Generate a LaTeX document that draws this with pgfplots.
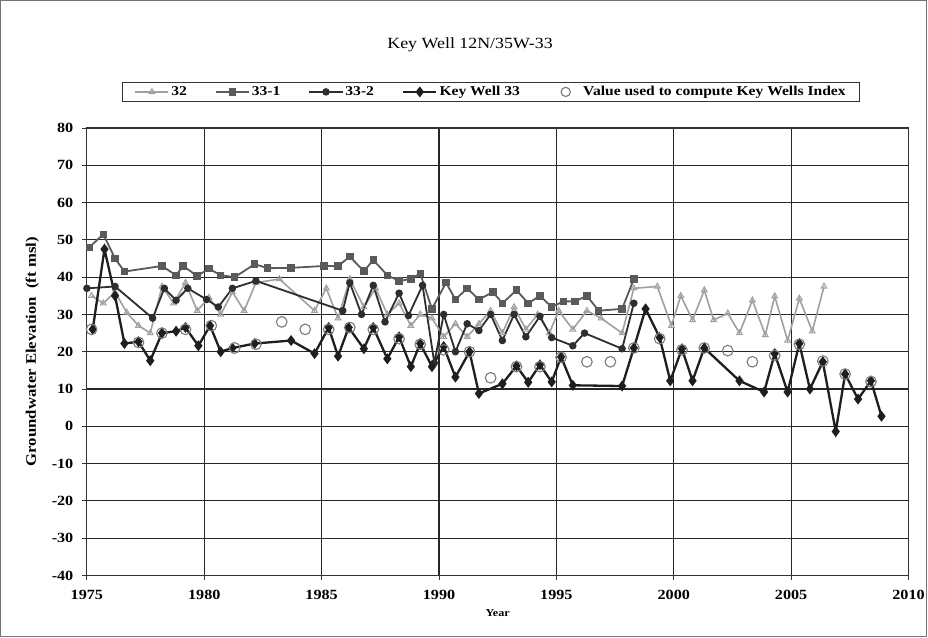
\documentclass[border=0pt]{standalone}
\usepackage{fontspec}
\setmainfont[FakeStretch=1.15]{Liberation Serif}
\usepackage{pgfplots}
\pgfplotsset{compat=1.18}
\definecolor{cA}{HTML}{A0A0A0}
\definecolor{cB}{HTML}{5A5A5A}
\definecolor{cC}{HTML}{2E2E2E}
\definecolor{cD}{HTML}{1E1E1E}
\definecolor{cE}{HTML}{7A7A7A}
\begin{document}
\begin{tikzpicture}
\begin{axis}[
 name=ax,
 scale only axis, width=819pt, height=446pt,
 xmin=1975, xmax=2010, ymin=-40, ymax=80,
 xtick={1975,1980,...,2010}, ytick={-40,-30,...,80},
 grid=major, major grid style={black!85, line width=1.2pt},
 axis line style={black!80, line width=1.1pt},
 tick style={black!80, line width=0.9pt},
 tick align=outside, major tick length=5pt,
 xtick pos=bottom, ytick pos=left,
 /pgf/number format/assume math mode=true,
 /pgf/number format/1000 sep={},
 ticklabel style={font=\fontsize{14}{16}\selectfont\bfseries},
 xticklabel style={yshift=-6pt},
 yticklabel style={xshift=-5pt},
 xlabel={Year}, xlabel style={font=\fontsize{10.5}{12}\selectfont\bfseries, yshift=-3pt},
 ylabel={Groundwater Elevation\ \ (ft msl)}, ylabel style={font=\fontsize{14.5}{16}\selectfont\bfseries, yshift=6pt},
 legend columns=5,
 legend style={at={(0.492,1)}, anchor=south, yshift=26pt, draw=black!80, line width=1.1pt,
   font=\fontsize{13.5}{15}\selectfont\bfseries, inner xsep=12pt, inner ysep=2pt,
   /tikz/every even column/.append style={column sep=26pt}},
 legend image code/.code={\draw[mark repeat=2,mark phase=2] plot coordinates {(0cm,0cm)(0.58cm,0cm)(1.16cm,0cm)};},
 legend cell align=left,
]
\addplot[cA, line width=1.6pt, mark=triangle, mark size=3.3pt, mark options={solid, line width=1pt}] coordinates {
(1975.2,35)(1975.7,33)(1976.2,36)(1976.7,30.5)(1977.2,27)(1977.7,25)(1978.2,37.5)(1978.7,33)
(1979.2,38.5)(1979.7,31)(1980.2,34.5)(1980.7,30)(1981.2,36)(1981.7,31)(1982.2,38.5)(1983.2,39.5)
(1984.7,31)(1985.2,37)(1985.7,29)(1986.2,39.5)(1986.8,32)(1987.3,37)(1987.8,30)(1988.3,33)
(1988.8,27)(1989.2,30)(1989.7,29)(1990.2,24)(1990.7,27.5)(1991.2,24)(1991.7,27.5)(1992.2,31)
(1992.7,25)(1993.2,32)(1993.7,26)(1994.2,30)(1994.7,25)(1995.1,31)(1995.7,26)(1996.3,31)
(1996.9,29)(1997.8,25)(1998.3,37)(1999.3,37.5)(1999.9,27)(2000.3,35)(2000.8,28.5)(2001.3,36.5)
(2001.7,28.5)(2002.3,30.3)(2002.8,25)(2003.35,33.8)(2003.9,24.5)(2004.3,34.9)(2004.85,23)
(2005.35,34.3)(2005.9,25.5)(2006.4,37.5)};
\addlegendentry{32}
\addplot[cB, line width=1.8pt, mark=square*, mark size=2.8pt, mark options={solid}] coordinates {
(1975.1,48)(1975.7,51.5)(1976.2,45)(1976.6,41.5)(1978.2,43)(1978.8,40.5)(1979.1,43)(1979.7,40.3)
(1980.2,42.3)(1980.7,40.5)(1981.3,40)(1982.15,43.5)(1982.7,42.4)(1983.7,42.5)(1985.1,43)(1985.7,43)
(1986.2,45.5)(1986.8,41.6)(1987.2,44.6)(1987.8,40.5)(1988.3,39)(1988.8,39.5)(1989.2,41)(1989.7,31.5)
(1990.3,38.5)(1990.7,34)(1991.2,37)(1991.7,34)(1992.3,36)(1992.7,33)(1993.3,36.5)(1993.8,33)
(1994.3,35)(1994.8,32)(1995.3,33.5)(1995.8,33.5)(1996.3,35)(1996.8,31)(1997.8,31.5)(1998.3,39.5)};
\addlegendentry{33-1}
\addplot[cC, line width=1.8pt, mark=*, mark size=2.8pt, mark options={solid}] coordinates {
(1975.0,37)(1976.2,37.5)(1977.8,29)(1978.3,37)(1978.8,33.8)(1979.3,37)(1980.1,34)(1980.6,32)
(1981.2,37)(1982.2,39)(1985.9,31)(1986.2,38.5)(1986.7,30)(1987.2,37.8)(1987.7,28)(1988.3,35.7)
(1988.7,29.7)(1989.3,37.8)(1989.8,17)(1990.2,30)(1990.7,20)(1991.2,27.5)(1991.7,25.7)(1992.2,30)
(1992.7,23)(1993.2,30)(1993.7,24)(1994.3,29.5)(1994.8,23.8)(1995.7,21.6)(1996.2,25)(1997.8,20.8)
(1998.3,33)};
\addlegendentry{33-2}
\addplot[cD, line width=2.3pt, mark=diamond*, mark size=3.6pt, mark options={solid}] coordinates {
(1975.25,26)(1975.75,47.5)(1976.2,35)(1976.6,22.2)(1977.2,22.7)(1977.7,17.6)(1978.2,25)(1978.8,25.5)
(1979.2,26.5)(1979.75,21.6)(1980.25,27)(1980.7,20)(1981.2,21)(1982.15,22.2)(1983.7,23)(1984.7,19.5)
(1985.3,26.5)(1985.7,18.8)(1986.15,26.5)(1986.8,20.8)(1987.2,26.5)(1987.8,18.1)(1988.3,24)(1988.8,16)
(1989.2,22.2)(1989.7,16)(1990.2,21.4)(1990.7,13.2)(1991.3,20)(1991.7,8.8)(1992.7,11.4)(1993.3,16.2)
(1993.8,11.8)(1994.3,16.5)(1994.8,11.9)(1995.2,18.6)(1995.7,11)(1997.8,10.8)(1998.3,21)(1998.8,31.5)
(1999.4,23.8)(1999.85,12.2)(2000.35,20.8)(2000.8,12.2)(2001.3,21)(2002.8,12.2)(2003.85,9.2)(2004.3,19.5)
(2004.85,9.2)(2005.35,22.2)(2005.8,10)(2006.35,17.3)(2006.9,-1.4)(2007.3,14)(2007.85,7.3)(2008.4,12.2)
(2008.85,2.7)};
\addlegendentry{Key Well 33}
\addplot[only marks, mark=o, mark size=5.3pt, mark options={cE, line width=1.1pt},
  legend image code/.code={\path[draw=none, fill=none] (0,0) -- (1.16cm,0);
    \draw[cE, line width=1.1pt, fill=none] (0.62cm,0cm) circle[radius=4.6pt];}] coordinates {
(1975.2,26)(1977.2,22.5)(1978.2,25)(1979.2,26)(1980.3,27)(1981.3,21)(1982.2,22)(1983.3,28)(1984.3,26)
(1985.3,26)(1986.2,26.5)(1987.2,26)(1988.3,23.5)(1989.2,22)(1990.2,20.5)(1991.3,20)(1992.2,13)
(1993.3,16)(1994.3,16)(1995.2,18.5)(1996.3,17.3)(1997.3,17.3)(1998.3,21)(1999.4,23.5)(2000.35,20.5)
(2001.3,21)(2002.3,20.3)(2003.35,17.3)(2004.3,19)(2005.35,22)(2006.35,17.5)(2007.3,14)(2008.4,12)};
\addlegendentry{Value used to compute Key Wells Index}
\end{axis}
\node[font=\fontsize{15.5}{17}\selectfont] at ([xshift=382pt,yshift=83pt]ax.north west) {Key Well 12N/35W-33};
\draw[black!55, line width=1.2pt] ([xshift=-86pt,yshift=-61pt]ax.south west) rectangle ([xshift=18pt,yshift=127pt]ax.north east);
\end{tikzpicture}
\end{document}
